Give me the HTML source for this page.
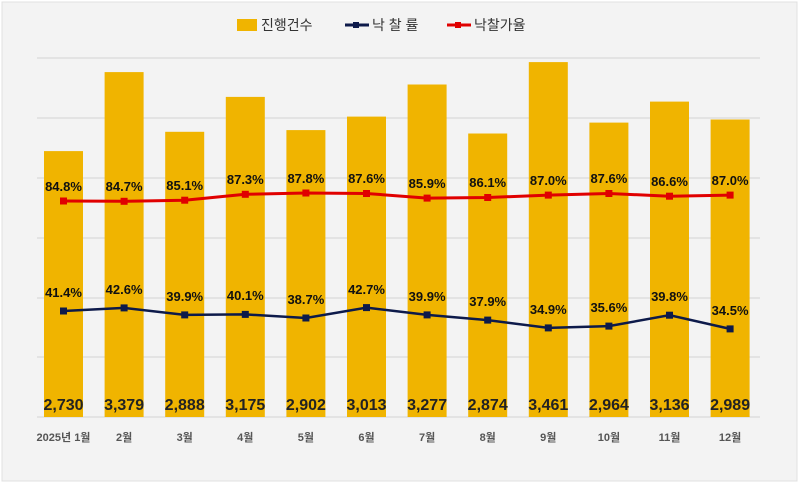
<!DOCTYPE html>
<html><head><meta charset="utf-8"><style>
body{margin:0;background:#fff}
svg{display:block}
text{font-family:"Liberation Sans","Noto Sans CJK KR",sans-serif}
.v{font-size:16px;font-weight:bold;fill:#222;text-anchor:middle}
.m{font-size:11px;font-weight:bold;fill:#555;text-anchor:middle}
.p{font-size:13px;font-weight:bold;fill:#111;text-anchor:middle}
</style></head><body>
<svg width="799" height="483" xmlns="http://www.w3.org/2000/svg">
<rect x="2" y="2" width="795" height="479" fill="#f3f3f3" stroke="#e0e0e0"/>
<g stroke="#d9d9d9" stroke-width="1.2">
<line x1="37" x2="760" y1="58" y2="58"/><line x1="37" x2="760" y1="118" y2="118"/>
<line x1="37" x2="760" y1="178" y2="178"/><line x1="37" x2="760" y1="238" y2="238"/>
<line x1="37" x2="760" y1="298" y2="298"/><line x1="37" x2="760" y1="357" y2="357"/>
<line x1="37" x2="760" y1="417" y2="417"/>
</g>
<g fill="#f0b400">
<rect x="44" y="151.1" width="39" height="265.9"/>
<rect x="104.6" y="72.1" width="39" height="344.9"/>
<rect x="165.2" y="131.8" width="39" height="285.2"/>
<rect x="225.8" y="96.9" width="39" height="320.1"/>
<rect x="286.4" y="130.1" width="39" height="286.9"/>
<rect x="347" y="116.6" width="39" height="300.4"/>
<rect x="407.6" y="84.5" width="39" height="332.5"/>
<rect x="468.2" y="133.5" width="39" height="283.5"/>
<rect x="528.8" y="62.1" width="39" height="354.9"/>
<rect x="589.4" y="122.6" width="39" height="294.4"/>
<rect x="650" y="101.6" width="39" height="315.4"/>
<rect x="710.6" y="119.5" width="39" height="297.5"/>
</g>
<g class="v">
<text class="v" x="63.5" y="410">2,730</text><text class="v" x="124.1" y="410">3,379</text>
<text class="v" x="184.7" y="410">2,888</text><text class="v" x="245.3" y="410">3,175</text>
<text class="v" x="305.9" y="410">2,902</text><text class="v" x="366.5" y="410">3,013</text>
<text class="v" x="427.1" y="410">3,277</text><text class="v" x="487.7" y="410">2,874</text>
<text class="v" x="548.3" y="410">3,461</text><text class="v" x="608.9" y="410">2,964</text>
<text class="v" x="669.5" y="410">3,136</text><text class="v" x="730.1" y="410">2,989</text>
</g>
<g>
<text class="m" x="63.5" y="441">2025년 1월</text><text class="m" x="124.1" y="441">2월</text>
<text class="m" x="184.7" y="441">3월</text><text class="m" x="245.3" y="441">4월</text>
<text class="m" x="305.9" y="441">5월</text><text class="m" x="366.5" y="441">6월</text>
<text class="m" x="427.1" y="441">7월</text><text class="m" x="487.7" y="441">8월</text>
<text class="m" x="548.3" y="441">9월</text><text class="m" x="608.9" y="441">10월</text>
<text class="m" x="669.5" y="441">11월</text><text class="m" x="730.1" y="441">12월</text>
</g>
<polyline fill="none" stroke="#e00000" stroke-width="3" points="63.5,201 124.1,201.3 184.7,200.2 245.3,194.3 305.9,193 366.5,193.5 427.1,198.1 487.7,197.5 548.3,195.1 608.9,193.5 669.5,196.2 730.1,195.1"/>
<polyline fill="none" stroke="#0d1a4a" stroke-width="2.5" points="63.5,311 124.1,307.9 184.7,314.9 245.3,314.4 305.9,318 366.5,307.6 427.1,314.9 487.7,320.1 548.3,327.9 608.9,326.1 669.5,315.2 730.1,328.9"/>
<g fill="#e00000">
<rect x="60" y="197.5" width="7" height="7"/><rect x="120.6" y="197.8" width="7" height="7"/>
<rect x="181.2" y="196.7" width="7" height="7"/><rect x="241.8" y="190.8" width="7" height="7"/>
<rect x="302.4" y="189.5" width="7" height="7"/><rect x="363" y="190" width="7" height="7"/>
<rect x="423.6" y="194.6" width="7" height="7"/><rect x="484.2" y="194" width="7" height="7"/>
<rect x="544.8" y="191.6" width="7" height="7"/><rect x="605.4" y="190" width="7" height="7"/>
<rect x="666" y="192.7" width="7" height="7"/><rect x="726.6" y="191.6" width="7" height="7"/>
</g>
<g fill="#0d1a4a">
<rect x="60" y="307.5" width="7" height="7"/><rect x="120.6" y="304.4" width="7" height="7"/>
<rect x="181.2" y="311.4" width="7" height="7"/><rect x="241.8" y="310.9" width="7" height="7"/>
<rect x="302.4" y="314.5" width="7" height="7"/><rect x="363" y="304.1" width="7" height="7"/>
<rect x="423.6" y="311.4" width="7" height="7"/><rect x="484.2" y="316.6" width="7" height="7"/>
<rect x="544.8" y="324.4" width="7" height="7"/><rect x="605.4" y="322.6" width="7" height="7"/>
<rect x="666" y="311.7" width="7" height="7"/><rect x="726.6" y="325.4" width="7" height="7"/>
</g>
<g>
<text class="p" x="63.5" y="191">84.8%</text><text class="p" x="124.1" y="191">84.7%</text>
<text class="p" x="184.7" y="190">85.1%</text><text class="p" x="245.3" y="184">87.3%</text>
<text class="p" x="305.9" y="183">87.8%</text><text class="p" x="366.5" y="183">87.6%</text>
<text class="p" x="427.1" y="188">85.9%</text><text class="p" x="487.7" y="187">86.1%</text>
<text class="p" x="548.3" y="185">87.0%</text><text class="p" x="608.9" y="183">87.6%</text>
<text class="p" x="669.5" y="186">86.6%</text><text class="p" x="730.1" y="185">87.0%</text>
</g>
<g>
<text class="p" x="63.5" y="297">41.4%</text><text class="p" x="124.1" y="294">42.6%</text>
<text class="p" x="184.7" y="301">39.9%</text><text class="p" x="245.3" y="300">40.1%</text>
<text class="p" x="305.9" y="304">38.7%</text><text class="p" x="366.5" y="294">42.7%</text>
<text class="p" x="427.1" y="301">39.9%</text><text class="p" x="487.7" y="306">37.9%</text>
<text class="p" x="548.3" y="314">34.9%</text><text class="p" x="608.9" y="312">35.6%</text>
<text class="p" x="669.5" y="301">39.8%</text><text class="p" x="730.1" y="315">34.5%</text>
</g>
<rect x="237" y="19" width="20" height="12" fill="#f0b400"/>
<text x="261" y="30" font-size="14" fill="#333">진행건수</text>
<line x1="345" x2="369" y1="25" y2="25" stroke="#0d1a4a" stroke-width="3"/><rect x="353" y="22" width="6" height="6" fill="#0d1a4a"/>
<text x="372" y="30" font-size="14" fill="#333">낙 찰 률</text>
<line x1="447" x2="471" y1="25" y2="25" stroke="#e00000" stroke-width="3"/><rect x="455" y="22" width="6" height="6" fill="#e00000"/>
<text x="474" y="30" font-size="14" fill="#333">낙찰가율</text>
</svg>
</body></html>
